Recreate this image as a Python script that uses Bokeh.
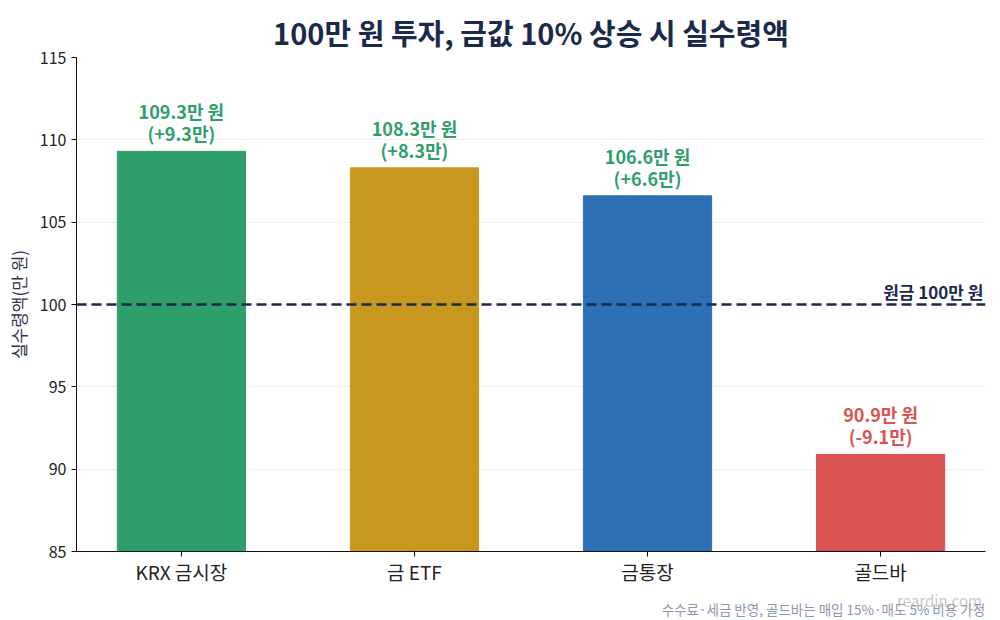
from bokeh.plotting import figure
from bokeh.layouts import column
from bokeh.models import ColumnDataSource, FixedTicker, Range1d, Span, Label
from bokeh.core.properties import value
from bokeh.embed import file_html
from bokeh.resources import INLINE

categories = ["KRX 금시장", "금 ETF", "금통장", "골드바"]
values = [109.3, 108.3, 106.6, 90.9]
gains = ["+9.3만", "+8.3만", "+6.6만", "-9.1만"]
bar_colors = ["#2e9e6b", "#c8971e", "#2e70b5", "#d95450"]
label_colors = ["#2e9e6b", "#2e9e6b", "#2e9e6b", "#d95450"]
y_ticks = [85, 90, 95, 100, 105, 110, 115]
principal = 100
footnote = "수수료·세금 반영, 골드바는 매입 15%·매도 5% 비용 가정"
watermark = "reardin.com"

FONT = "Noto Sans CJK KR"
X0, X1 = -0.45, 3.45
Y0, Y1 = 85, 115
FW, FH = 909, 494
px_x = (X1 - X0) / FW

xs = list(range(len(categories)))
src = ColumnDataSource(dict(
    x=xs,
    top=values,
    color=bar_colors,
    lcolor=label_colors,
    label=[f"{v}만 원\n({g})" for v, g in zip(values, gains)],
))

p = figure(frame_width=FW, frame_height=FH,
           min_border_left=76, min_border_right=15,
           min_border_top=57, min_border_bottom=37,
           x_range=Range1d(X0, X1), y_range=Range1d(Y0, Y1),
           output_backend="svg", toolbar_location=None,
           title="100만 원 투자, 금값 10% 상승 시 실수령액")

p.title.align = "center"
p.title.text_font = FONT
p.title.text_font_size = "29px"
p.title.text_font_style = "bold"
p.title.text_color = "#1b2a4a"

p.vbar(x="x", top="top", bottom=Y0, width=0.55, color="color", source=src)

p.add_layout(Span(location=principal, dimension="width", line_color="#1b2a4a",
                  line_width=2.4, line_dash="10 5"))

p.text(x="x", y="top", text="label", source=src, text_align="center",
       text_baseline="bottom", y_offset=-5, text_color="lcolor",
       text_font=value(FONT), text_font_size="18px", text_font_style="bold",
       text_line_height=0.85)

p.add_layout(Label(x=X1 - 2 * px_x, y=principal, text="원금 100만 원", text_align="right",
                   text_baseline="bottom", y_offset=1, text_font=FONT,
                   text_font_size="17px", text_font_style="bold",
                   text_color="#1b2a4a"))

p.xaxis.ticker = FixedTicker(ticks=xs)
p.xaxis.major_label_overrides = {i: c for i, c in enumerate(categories)}
p.xaxis.major_label_text_font = FONT
p.xaxis.major_label_text_font_size = "19px"
p.xaxis.major_label_text_color = "#222222"
p.xaxis.major_label_standoff = 1
p.xaxis.minor_tick_line_color = None
p.xaxis.major_tick_in = 0
p.xaxis.major_tick_out = 5
p.xaxis.axis_line_color = "#111111"

p.yaxis.ticker = FixedTicker(ticks=y_ticks)
p.yaxis.minor_tick_line_color = None
p.yaxis.major_tick_in = 0
p.yaxis.major_tick_out = 5
p.yaxis.major_label_text_font = FONT
p.yaxis.major_label_text_font_size = "16px"
p.yaxis.major_label_text_color = "#222222"
p.yaxis.axis_label = "실수령액(만 원)"
p.yaxis.axis_label_text_font = FONT
p.yaxis.axis_label_text_font_size = "17px"
p.yaxis.axis_label_text_font_style = "normal"
p.yaxis.axis_label_text_color = "#2a3550"
p.yaxis.axis_label_standoff = 6
p.yaxis.axis_line_color = "#111111"

p.xgrid.grid_line_color = None
p.ygrid.grid_line_color = "#eeeeee"
p.outline_line_color = None

# footer strip: screen-like coordinates (y downward)
f = figure(width=1000, height=32, x_range=Range1d(-14, 986), y_range=Range1d(32, 0),
           min_border=0, output_backend="svg", toolbar_location=None)
f.axis.visible = False
f.grid.visible = False
f.outline_line_color = None
f.background_fill_color = None
f.text(x=[982], y=[12], text=[watermark], text_align="right", text_baseline="middle",
       text_font=value(FONT), text_font_size="15px", text_color="#c8c8c8")
f.text(x=[985.5], y=[20], text=[footnote], text_align="right", text_baseline="middle",
       text_font=value(FONT), text_font_size="13.5px", text_color="#8a98b0")

layout = column(p, f, spacing=0)
open("out.html", "w").write(file_html(layout, INLINE))
